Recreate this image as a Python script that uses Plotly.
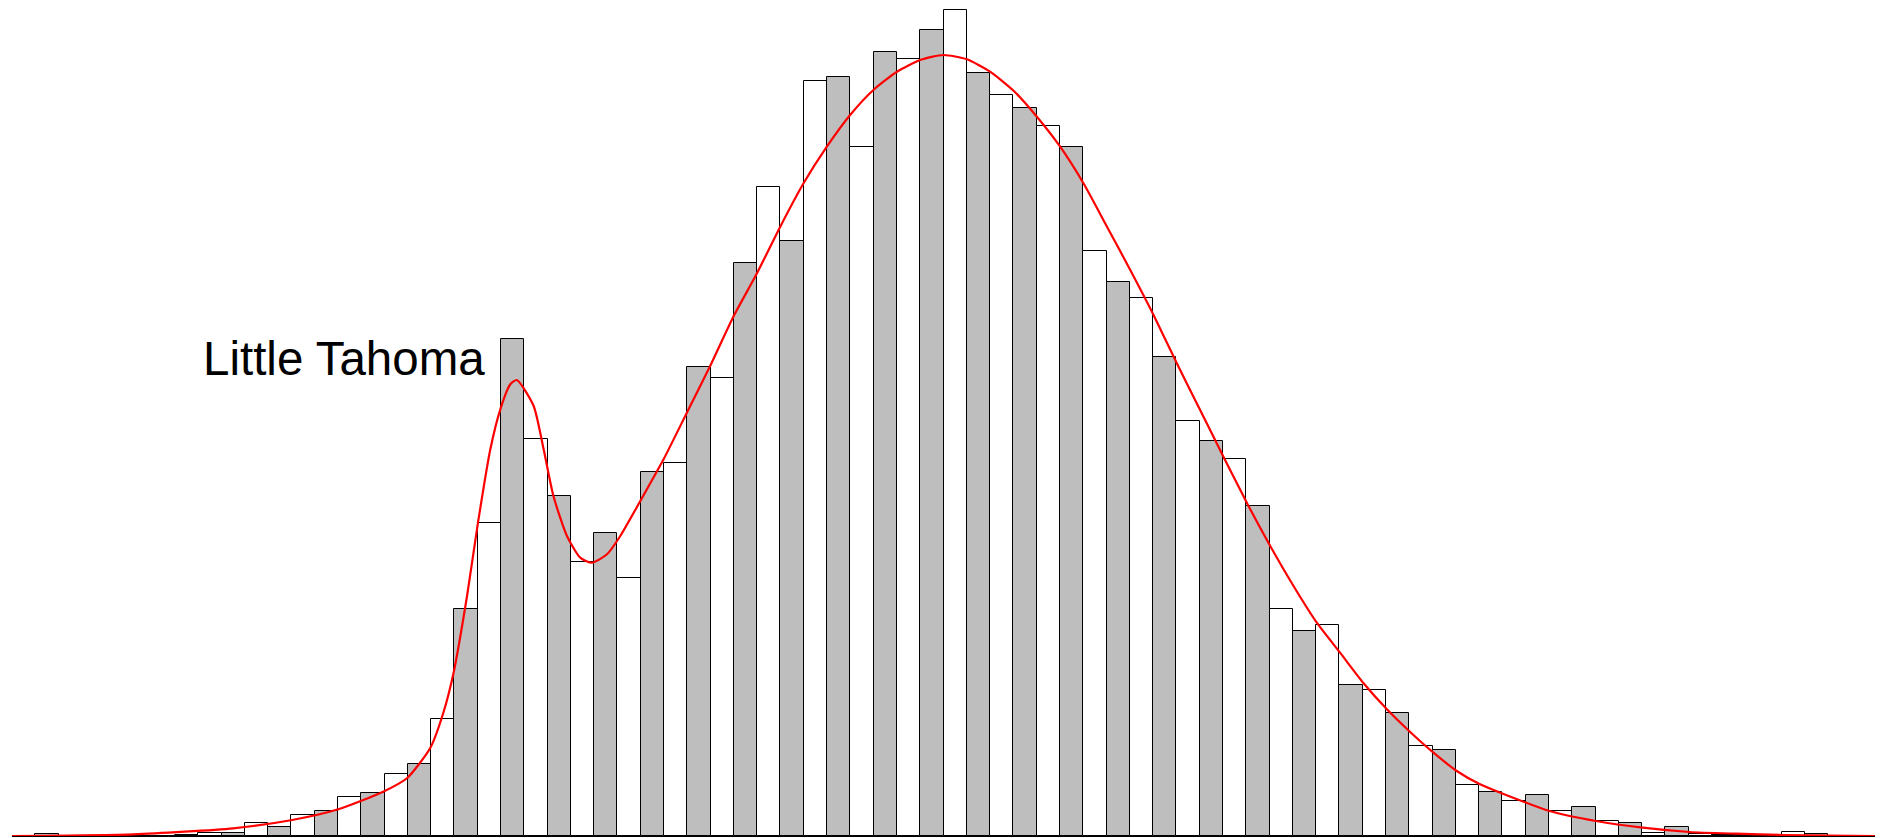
import plotly.graph_objects as go

# Histogram bin counts (80 equal-width bins, left to right)
counts = [
    0, 1.7, 0.3, 0.3, 0.3, 0.5, 0.5, 1.5, 2.7, 3.3,
    13.5, 9.3, 21, 25.2, 38.8, 43, 62.5, 71.8, 117, 226.7,
    313, 496.7, 397, 340, 274, 303, 258, 363.7, 373.3, 469.3,
    457.7, 573, 649.3, 595, 755.3, 759, 689, 784.3, 776.7, 806,
    826, 763.3, 741.3, 728, 710, 689, 585.3, 553.7, 538, 479.3,
    414.7, 395, 377.3, 330.5, 226.7, 205.3, 211, 150.7, 146.3, 122.7,
    90, 85.8, 50.7, 44.3, 35, 40.7, 25, 29.3, 15.3, 13.3,
    3.3, 9.3, 2.5, 1, 0.7, 0.7, 3.7, 1.7, 0, 0,
]

# Smoothed density curve (x in bin units)
curve_x = [0.0, 5.21, 9.50, 12.03, 14.01, 15.94, 16.97, 17.96, 18.52, 18.96,
           19.54, 20.01, 20.54, 20.97, 21.40, 21.68, 22.40, 22.83, 23.25, 23.83,
           24.40, 24.90, 25.55, 26.12, 26.98, 27.98, 28.98, 29.98, 30.98, 31.99,
           32.99, 33.99, 34.99, 35.99, 36.99, 38.00, 39.00, 40.00, 41.00, 42.00,
           43.01, 44.01, 45.01, 46.01, 47.02, 48.02, 49.02, 50.02, 51.02, 52.02,
           53.03, 54.03, 55.03, 56.03, 57.03, 58.03, 59.04, 60.04, 61.04, 62.04,
           63.04, 64.05, 66.02, 68.02, 70.03, 72.03, 74.04, 76.04, 80.0]
curve_y = [0, 1.7, 7.7, 16, 26.7, 44.3, 58, 88, 123, 163,
           240, 313.3, 386.7, 426.7, 451.7, 456, 430, 386.7, 340, 300,
           278.3, 273.3, 281.7, 300, 335, 376.7, 423.3, 470, 519.5, 562.7,
           609.3, 652.7, 689.3, 721, 746, 764.3, 776, 781, 776.7, 764.3,
           745.2, 719.3, 689.3, 652.7, 609.3, 566, 521, 472.7, 426, 379.3,
           333, 290, 250, 213.3, 183.3, 153, 126.7, 104, 83.3, 65,
           51.7, 42, 25, 15, 8.3, 4, 2.3, 1, 0]

label_text = "Little Tahoma"
label_x = 20.4
label_y = 478

bin_centers = [k + 0.5 for k in range(len(counts))]
bar_colors = ["#BEBEBE" if k % 2 == 1 else "#FFFFFF" for k in range(len(counts))]

fig = go.Figure()
fig.add_trace(go.Bar(
    x=bin_centers, y=counts, width=1,
    marker=dict(color=bar_colors, line=dict(color="#000000", width=1)),
    hoverinfo="skip",
))
fig.add_trace(go.Scatter(
    x=curve_x, y=curve_y, mode="lines",
    line=dict(color="#FF0000", width=2.2, shape="spline", smoothing=0.6),
    hoverinfo="skip",
))
fig.add_annotation(
    x=label_x, y=label_y, text=label_text, showarrow=False,
    xanchor="right", yanchor="middle",
    font=dict(family="Liberation Sans, Arial, sans-serif", size=47.5, color="#000000"),
)
fig.update_layout(
    width=1886, height=838,
    margin=dict(l=12, r=11, t=0, b=2, pad=0),
    paper_bgcolor="white", plot_bgcolor="white",
    showlegend=False, bargap=0,
    xaxis=dict(range=[0, 80], showgrid=False, zeroline=False, showticklabels=False,
               ticks="", showline=True, linecolor="#000000", linewidth=1),
    yaxis=dict(range=[0, 836], showgrid=False, zeroline=False, showticklabels=False,
               ticks="", showline=False),
)
fig.write_html("out.html", config={"displayModeBar": False},
               post_script="document.body.style.margin='0';document.body.style.overflow='hidden';")
